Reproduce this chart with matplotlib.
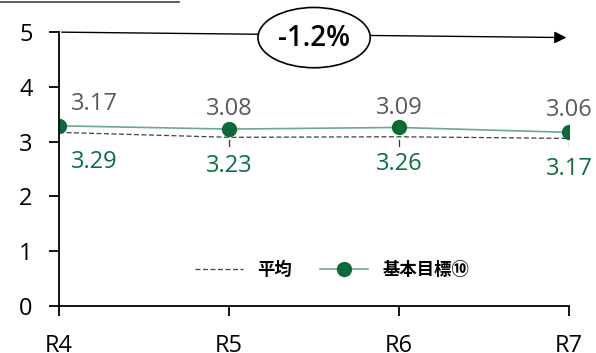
import matplotlib.pyplot as plt
from matplotlib.patches import Ellipse

years = ["R4", "R5", "R6", "R7"]
avg = [3.17, 3.08, 3.09, 3.06]
goal = [3.29, 3.23, 3.26, 3.17]
change_label = "-1.2%"

plt.rcParams['font.family'] = ['Open Sans', 'Noto Sans CJK JP', 'DejaVu Sans']

fig = plt.figure(figsize=(5.96, 3.53), dpi=100)
ax = fig.add_axes([0.099, 0.133, 0.856, 0.776])

x = list(range(len(years)))
ax.plot(x, avg, color='#404040', linestyle='--', linewidth=0.9, dashes=(4, 2), label='平均')
ax.plot(x, goal, color='#6aab8a', linewidth=1.2, marker='o', markersize=10,
        markerfacecolor='#0b6b38', markeredgecolor='#0b6b38', label='基本目標⑩')

# small leader ticks
for i in x[1:]:
    ax.plot([i, i], [2.92, 3.03], color='#333333', linewidth=0.9)

for i in x:
    dx = 0.07 if i == 0 else 0
    ha = 'left' if i == 0 else 'center'
    ax.text(i + dx, avg[i] + 0.3, f"{avg[i]:.2f}", color='#595959',
            fontsize=17, ha=ha, va='bottom')
    ax.text(i + dx, goal[i] - 0.45, f"{goal[i]:.2f}", color='#0b7040',
            fontsize=17, ha=ha, va='top')

ax.set_xlim(0, 3)
ax.set_ylim(0, 5)
ax.set_xticks(x)
ax.set_xticklabels(years)
ax.set_yticks([0, 1, 2, 3, 4, 5])
ax.tick_params(axis='both', labelsize=17, length=7, width=1.3, direction='out', colors='black')
ax.tick_params(axis='x', pad=13)
ax.tick_params(axis='y', pad=12)
for s in ['top', 'right']:
    ax.spines[s].set_visible(False)
for s in ['left', 'bottom']:
    ax.spines[s].set_linewidth(1.3)

# trend arrow with ellipse
ax.annotate('', xy=(3.0, 4.9), xytext=(0.0, 5.0),
            arrowprops=dict(arrowstyle='-|>', color='black', lw=1.0, mutation_scale=18),
            annotation_clip=False)
ell = Ellipse((1.5, 4.9), 0.66, 1.1, facecolor='white', edgecolor='black', linewidth=1.2,
              clip_on=False, zorder=5)
ax.add_patch(ell)
ax.text(1.5, 4.88, change_label, fontsize=20, fontweight='semibold', ha='center', va='center',
        zorder=6, clip_on=False)

leg = ax.legend(loc='lower center', bbox_to_anchor=(0.535, 0.04), ncol=2, frameon=False,
                prop={'family': ['Noto Sans CJK JP'], 'weight': 'bold', 'size': 12.5},
                handlelength=2.8, columnspacing=1.6)

fig.add_artist(plt.Line2D([0, 0.3], [0.994, 0.994], color='#404040', linewidth=1.2))

fig.savefig('out.png', dpi=100)
